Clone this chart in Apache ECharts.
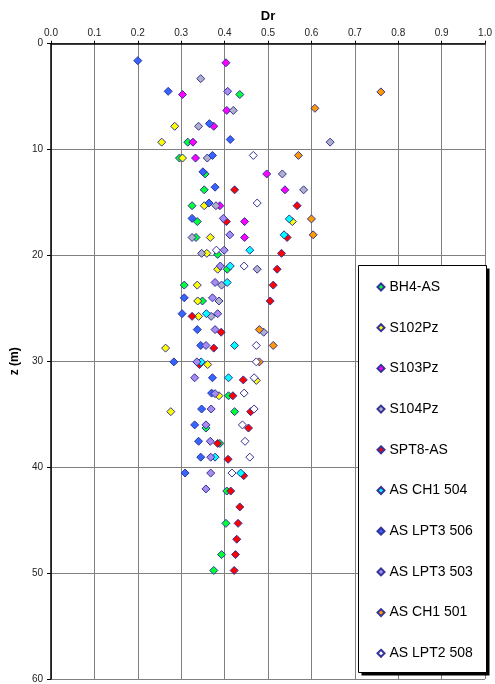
<!DOCTYPE html>
<html>
<head>
<meta charset="utf-8">
<script src="https://cdn.jsdelivr.net/npm/echarts@6/dist/echarts.min.js"></script>
<style>html,body{margin:0;padding:0;background:#fff;}#c{width:495px;height:684px;}</style>
</head>
<body>
<div id="c"></div>
<script>
const xTicks = [0,0.1,0.2,0.3,0.4,0.5,0.6,0.7,0.8,0.9,1.0];
const yTicks = [0,10,20,30,40,50,60];
const seriesNames = ['BH4-AS','S102Pz','S103Pz','S104Pz','SPT8-AS','AS CH1 504','AS LPT3 506','AS LPT3 503','AS CH1 501','AS LPT2 508'];
const seriesColors = ['#00FF33','#FFFF00','#FF00FF','#B0B0C8','#FF0000','#00FFFF','#3366FF','#A78BF0','#FF9900','#FFFFFF'];

const bh4 = [[0.435,4.8],[0.315,9.3],[0.296,10.8],[0.355,12.3],[0.353,13.8],[0.325,15.3],[0.337,16.8],[0.334,18.3],[0.384,19.9],[0.406,21.3],[0.307,22.8],[0.349,24.3],[0.409,33.25],[0.423,34.75],[0.357,36.3],[0.389,37.75],[0.405,42.25],[0.403,45.3],[0.393,48.25],[0.375,49.75]];
const s102 = [[0.285,7.8],[0.255,9.3],[0.303,10.8],[0.353,15.3],[0.556,16.8],[0.367,18.3],[0.359,19.8],[0.384,21.3],[0.337,22.8],[0.338,24.3],[0.34,25.75],[0.264,28.75],[0.361,30.3],[0.473,31.8],[0.387,33.25],[0.276,34.75]];
const s103 = [[0.403,1.8],[0.303,4.8],[0.405,6.3],[0.375,7.8],[0.327,9.3],[0.333,10.8],[0.497,12.3],[0.539,13.8],[0.389,15.3],[0.446,16.8],[0.446,18.3]];
const s104 = [[0.345,3.3],[0.42,6.3],[0.34,7.8],[0.643,9.3],[0.36,10.8],[0.533,12.3],[0.582,13.8],[0.38,15.3],[0.325,18.3],[0.347,19.8],[0.475,21.3],[0.393,22.8],[0.387,24.3],[0.369,25.75],[0.49,27.25]];
const spt8 = [[0.423,13.8],[0.567,15.3],[0.404,16.8],[0.544,18.3],[0.531,19.8],[0.521,21.3],[0.512,22.8],[0.505,24.3],[0.325,25.75],[0.392,27.25],[0.375,28.75],[0.342,30.3],[0.443,31.75],[0.419,33.25],[0.46,34.75],[0.455,36.3],[0.384,37.75],[0.408,39.25],[0.444,40.8],[0.414,42.25],[0.435,43.75],[0.431,45.3],[0.428,46.8],[0.425,48.25],[0.422,49.75]];
const ch1504 = [[0.549,16.55],[0.537,18.05],[0.458,19.5],[0.413,21.0],[0.406,22.55],[0.358,25.5],[0.423,28.5],[0.346,30.05],[0.409,31.55],[0.378,39.05],[0.437,40.55]];
const lpt3506 = [[0.2,1.6],[0.27,4.5],[0.365,7.55],[0.413,9.05],[0.372,10.55],[0.35,12.1],[0.378,13.55],[0.364,15.05],[0.325,16.5],[0.307,24.0],[0.302,25.5],[0.337,27.0],[0.345,28.5],[0.283,30.05],[0.372,31.55],[0.37,33.0],[0.347,34.5],[0.331,36.0],[0.34,37.55],[0.345,39.05],[0.309,40.55]];
const lpt3503 = [[0.407,4.5],[0.397,16.5],[0.412,18.05],[0.399,19.5],[0.39,21.0],[0.378,22.55],[0.372,24.0],[0.384,25.5],[0.378,27.0],[0.357,28.5],[0.336,30.05],[0.331,31.55],[0.378,33.05],[0.369,34.5],[0.357,36.0],[0.367,37.55],[0.368,39.05],[0.368,40.55],[0.357,42.05]];
const ch1501 = [[0.76,4.55],[0.608,6.1],[0.57,10.55],[0.6,16.55],[0.604,18.05],[0.48,27.0],[0.512,28.5],[0.48,30.05]];
const lpt2508 = [[0.466,10.55],[0.475,15.05],[0.381,19.5],[0.445,21.0],[0.473,28.5],[0.473,30.05],[0.468,31.55],[0.445,33.0],[0.468,34.5],[0.441,36.0],[0.447,37.55],[0.458,39.05],[0.417,40.55]];

const allData = [bh4, s102, s103, s104, spt8, ch1504, lpt3506, lpt3503, ch1501, lpt2508];
const FONT = '"Liberation Sans", Arial, sans-serif';

const chart = echarts.init(document.getElementById('c'), null, {renderer:'canvas'});
chart.setOption({
  animation: false,
  backgroundColor: '#fff',
  grid: {left: 51, right: 4.3, top: 43.7, bottom: 2.4, containLabel: false},
  xAxis: {
    type: 'value', position: 'top', min: 0, max: 1, interval: 0.1,
    name: 'Dr', nameLocation: 'middle', nameGap: 21,
    nameTextStyle: {fontFamily: FONT, fontSize: 13, fontWeight: 'bold', color: '#000'},
    axisLine: {show: true, onZero: false, lineStyle: {color: '#000', width: 1.5}},
    axisTick: {show: true, inside: false, length: 3, lineStyle: {color: '#000'}},
    axisLabel: {fontFamily: FONT, fontSize: 10, color: '#222', margin: 5, formatter: v => v.toFixed(1)},
    splitLine: {show: true, lineStyle: {color: '#808080', width: 1}}
  },
  yAxis: {
    type: 'value', inverse: true, min: 0, max: 60, interval: 10,
    name: 'z (m)', nameLocation: 'middle', nameGap: 24, nameRotate: 90,
    nameTextStyle: {fontFamily: FONT, fontSize: 12, fontWeight: 'bold', color: '#000'},
    axisLine: {show: true, onZero: false, lineStyle: {color: '#000', width: 1.5}},
    axisTick: {show: true, inside: false, length: 4, lineStyle: {color: '#000'}},
    axisLabel: {fontFamily: FONT, fontSize: 10, color: '#222', margin: 8},
    splitLine: {show: true, lineStyle: {color: '#808080', width: 1}}
  },
  graphic: [{
    type: 'rect', z: 10, silent: true,
    shape: {x: 361.5, y: 268.5, width: 128, height: 407},
    style: {fill: '#000', stroke: null}
  }, {
    type: 'rect', z: 11, silent: true,
    shape: {x: 358.5, y: 265.5, width: 128, height: 407},
    style: {fill: '#fff', stroke: '#000', lineWidth: 1}
  }],
  legend: {
    orient: 'vertical', left: 376.5, top: 279, padding: 0, z: 20,
    itemWidth: 7, itemHeight: 7, itemGap: 24.7,
    icon: 'diamond',
    textStyle: {fontFamily: FONT, fontSize: 14, color: '#000', lineHeight: 16},
    data: seriesNames
  },
  series: seriesNames.map((n, i) => ({
    name: n, type: 'scatter', symbol: 'diamond', symbolSize: 8,
    itemStyle: {color: seriesColors[i], borderColor: '#333399', borderWidth: 1, opacity: 1},
    emphasis: {disabled: true},
    data: allData[i]
  }))
});
</script>
</body>
</html>
